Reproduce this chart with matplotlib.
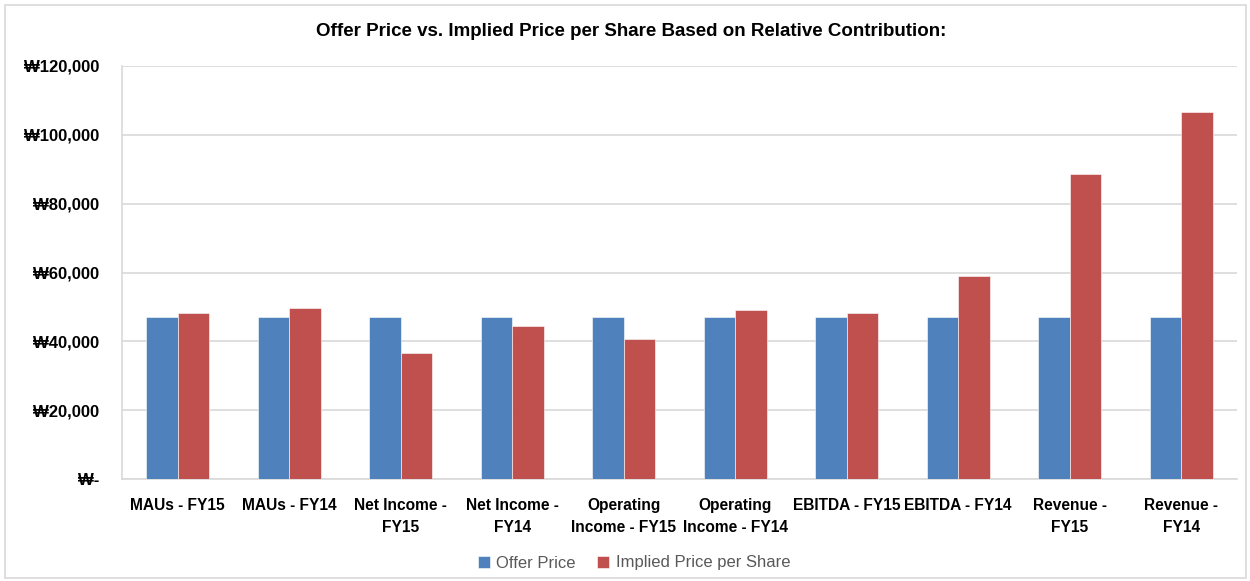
import numpy as np
import matplotlib
matplotlib.use("Agg")
import matplotlib.pyplot as plt
from matplotlib.patches import Rectangle
from matplotlib.ticker import FuncFormatter

plt.rcParams['font.family'] = ['Liberation Sans', 'DejaVu Sans']

# chart data
categories = [
    "MAUs - FY15", "MAUs - FY14", "Net Income -\nFY15", "Net Income -\nFY14",
    "Operating\nIncome - FY15", "Operating\nIncome - FY14", "EBITDA - FY15",
    "EBITDA - FY14", "Revenue -\nFY15", "Revenue -\nFY14",
]
offer_price = [47200, 47200, 47200, 47200, 47200, 47200, 47200, 47200, 47200, 47200]
implied_price = [48200, 49600, 36500, 44500, 40800, 49100, 48200, 59000, 88500, 106600]
series_names = ["Offer Price", "Implied Price per Share"]
y_ticks = [0, 20000, 40000, 60000, 80000, 100000, 120000]

BLUE = "#4F81BD"
RED = "#C0504D"
GRID = "#D9D9D9"


def won(v, pos=None):
    if v == 0:
        return "\u20a9-"
    return "\u20a9{:,.0f}".format(v)


fig = plt.figure(figsize=(12.5, 5.81), dpi=100)
ax = fig.add_axes([122 / 1250, 1 - 479 / 581, (1237 - 122) / 1250, (479 - 66) / 581])

x = np.arange(len(categories))
w = 0.283
ax.bar(x - w / 2, offer_price, w, color=BLUE, label=series_names[0],
       edgecolor="white", linewidth=0.4, zorder=3)
ax.bar(x + w / 2, implied_price, w, color=RED, label=series_names[1],
       edgecolor="white", linewidth=0.4, zorder=3)

ax.set_xlim(-0.5, len(categories) - 0.5)
ax.set_ylim(0, 120000)
ax.set_yticks(y_ticks)
ax.yaxis.set_major_formatter(FuncFormatter(won))
ax.grid(axis="y", color=GRID, linewidth=1.2, zorder=0)
ax.set_axisbelow(True)

for side in ["top", "right"]:
    ax.spines[side].set_visible(False)
for side in ["left", "bottom"]:
    ax.spines[side].set_color(GRID)
    ax.spines[side].set_linewidth(1.2)

ax.tick_params(axis="both", length=0)
ax.tick_params(axis="y", pad=16.5)
ax.tick_params(axis="x", pad=13.5)
ax.set_xticks(x)
ax.set_xticklabels(categories, fontsize=11.2, fontweight="bold", linespacing=1.6)
for lbl in ax.get_yticklabels():
    lbl.set_fontsize(12)
    lbl.set_fontweight("bold")

fig.text(0.505, 1 - 31 / 581, "Offer Price vs. Implied Price per Share Based on Relative Contribution:",
         ha="center", va="center", fontsize=13.5, fontweight="bold")

leg = fig.legend(loc="center", bbox_to_anchor=(634 / 1250, 1 - 563 / 581), ncol=2,
                 frameon=False, fontsize=12, handlelength=0.7, handleheight=0.7,
                 handletextpad=0.4, columnspacing=1.3)
for t in leg.get_texts():
    t.set_color("#595959")

# outer chart border
fig.patches.append(Rectangle((5 / 1250, 3 / 581), 1241 / 1250, 573 / 581,
                             transform=fig.transFigure, fill=False,
                             edgecolor=GRID, linewidth=1.2))

fig.savefig("out.png", dpi=100)
